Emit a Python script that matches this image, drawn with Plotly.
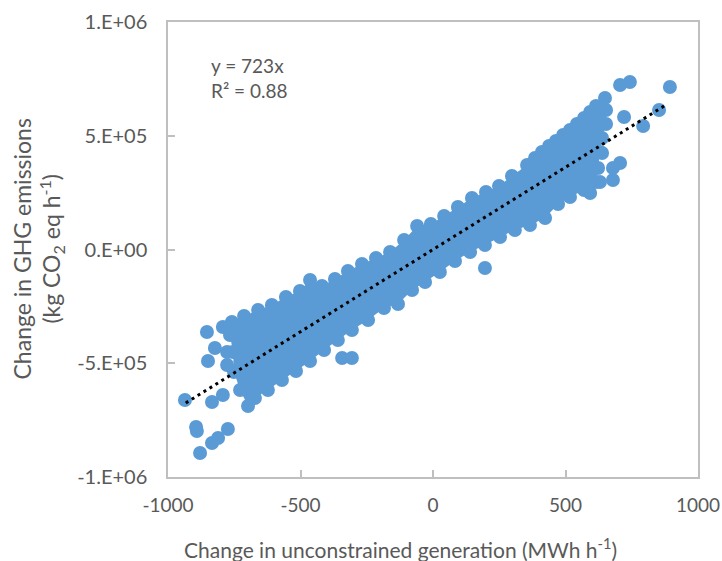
import plotly.graph_objects as go

# Dense core of the cloud: outline of marker centres (MWh/h, kg CO2 eq/h)
core_x = [-759, -713, -660, -608, -555, -502, -464, -419, -370, -321, -268, -215, -162,
          -109, -60, -8, 42, 94, 147, 200, 249, 298, 355, 385, 411, 438, 464, 491, 517,
          543, 570, 593, 615, 649,
          653, 653, 638, 630, 623, 615,
          570, 517, 472, 423, 366, 309, 253, 196, 140, 83, 26, -30, -79, -132, -185,
          -245, -306, -359, -411, -464, -517, -570, -623, -672, -698,
          -728, -751, -755, -766]
core_y = [-318700, -292300, -266000, -244000, -208800, -182400, -134100, -160500, -129700,
          -94500, -63700, -37400, -11000, 41800, 103300, 112100, 147300, 186800, 226400,
          252800, 279100, 323100, 371500, 402200, 428600, 455000, 477000, 503300, 525300,
          551700, 578100, 604500, 630800, 666000,
          613200, 551700, 490200, 428600, 358300, 296700,
          261600, 230800, 200000, 138500, 107700, 85700, 55000, 19800, -11000, -50600,
          -98900, -142900, -178000, -239600, -257200, -309900, -353900, -397800, -441800,
          -490200, -534100, -573700, -617600, -652800, -688000,
          -617600, -538500, -450600, -375900]

# Scattered hours outside the dense core
out_x = [-936, -894, -891, -879, -834, -811, -774, -853, -849, -823, -777, -777, -793,
         -834, -793, -343, -306, 196, 706, 743, 894, 853, 793, 721, 706, 679, 679, 630,
         638, 593]
out_y = [-661600, -780300, -797900, -894600, -850600, -828600, -789100, -362700, -490200,
         -433000, -450600, -507700, -340700, -670400, -639600, -477000, -477000, -81300,
         723100, 736300, 714400, 613200, 542900, 582500, 380300, 358300, 305500, 296700,
         424200, 248400]

# Linear trendline through the origin
slope = 723
r2 = 0.88
trend_x = [-933, 882]
trend_y = [slope * v for v in trend_x]

x_ticks = [-1000, -500, 0, 500, 1000]
x_ticktext = ["-1000", "-500", "0", "500", "1000"]
y_ticks = [-1e6, -5e5, 0, 5e5, 1e6]
y_ticktext = ["-1.E+06", "-5.E+05", "0.E+00", "5.E+05", "1.E+06"]

BLUE = "#5B9BD5"
GREY_TXT = "#595959"
AXIS = "#BFBFBF"
FONT = "Lato"

fig = go.Figure()
fig.add_trace(go.Scatter(
    x=core_x, y=core_y, mode="markers", fill="toself", fillcolor=BLUE,
    marker=dict(size=14, color=BLUE, line=dict(width=0)),
    line=dict(width=0, color=BLUE), showlegend=False, hoverinfo="skip"))
fig.add_trace(go.Scatter(
    x=out_x, y=out_y, mode="markers",
    marker=dict(size=14, color=BLUE, line=dict(width=0)), showlegend=False))
fig.add_trace(go.Scatter(
    x=trend_x, y=trend_y, mode="lines",
    line=dict(color="black", width=3, dash="3px,4px"), showlegend=False))

axis_common = dict(showgrid=False, zeroline=False, showline=True, linecolor=AXIS,
                   linewidth=1.5, mirror=True, ticks="inside", ticklen=7,
                   tickwidth=1.5, tickcolor=AXIS, automargin=False)

fig.update_layout(
    width=722, height=561,
    margin=dict(l=168, r=24, t=22, b=84, autoexpand=False),
    paper_bgcolor="white", plot_bgcolor="white",
    xaxis=dict(range=[-1000, 1000], tickvals=x_ticks, ticktext=x_ticktext,
               ticklabelstandoff=10,
               tickfont=dict(family=FONT, size=19, color=GREY_TXT), **axis_common),
    yaxis=dict(range=[-1e6, 1e6], tickvals=y_ticks, ticktext=y_ticktext,
               ticklabelstandoff=15,
               tickfont=dict(family=FONT, size=20, color=GREY_TXT), **axis_common),
    annotations=[
        dict(text=f"y = {slope}x<br>R² = {r2:.2f}", xref="paper", yref="paper",
             x=(249 - 168) / 530, y=(477 - 78) / 455, xanchor="center", yanchor="middle",
             align="left", showarrow=False,
             font=dict(family=FONT, size=19, color=GREY_TXT)),
        dict(text="Change in unconstrained generation (MWh h<sup>-1</sup>)",
             xref="paper", yref="paper", x=(400 - 168) / 530, y=(477 - 548) / 455,
             xanchor="center", yanchor="middle", showarrow=False,
             font=dict(family=FONT, size=21, color=GREY_TXT)),
        dict(text="Change in GHG emissions<br>(kg CO<sub>2</sub> eq h<sup>-1</sup>)",
             xref="paper", yref="paper", x=(38 - 168) / 530, y=0.5, textangle=-90,
             xanchor="center", yanchor="middle", showarrow=False,
             font=dict(family=FONT, size=23, color=GREY_TXT)),
    ],
)

fig.write_html("out.html")
